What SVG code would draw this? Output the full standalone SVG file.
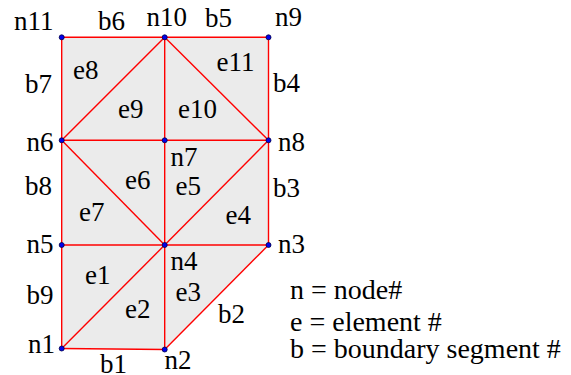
<svg xmlns="http://www.w3.org/2000/svg" width="571" height="375" viewBox="0 0 571 375">
<style>
text{font-size:27px;fill:#000}
.leg{font-size:28px}
.e{stroke:#ff0000;stroke-width:1.4;fill:none}
.d{fill:#0000ee;stroke:#000044;stroke-width:0.8}
</style>
<rect width="571" height="375" fill="#fff"/>
<polygon points="61.7,37.3 268.5,37.3 268.5,245 164.7,349.5 61.7,348.5" fill="#ebebeb"/>
<g id="connectors" class="e">
<line x1="61.7" y1="348.5" x2="164.7" y2="349.5"/>
<line x1="164.7" y1="349.5" x2="268.5" y2="245"/>
<line x1="268.5" y1="245" x2="268.5" y2="140.3"/>
<line x1="268.5" y1="140.3" x2="268.5" y2="37.3"/>
<line x1="268.5" y1="37.3" x2="164.7" y2="37.3"/>
<line x1="164.7" y1="37.3" x2="61.7" y2="37.3"/>
<line x1="61.7" y1="37.3" x2="61.7" y2="140.3"/>
<line x1="61.7" y1="140.3" x2="61.7" y2="245"/>
<line x1="61.7" y1="245" x2="61.7" y2="348.5"/>
<line x1="61.7" y1="245" x2="164.7" y2="245"/>
<line x1="164.7" y1="245" x2="268.5" y2="245"/>
<line x1="61.7" y1="140.3" x2="164.7" y2="140.3"/>
<line x1="164.7" y1="140.3" x2="268.5" y2="140.3"/>
<line x1="164.7" y1="37.3" x2="164.7" y2="140.3"/>
<line x1="164.7" y1="140.3" x2="164.7" y2="245"/>
<line x1="164.7" y1="245" x2="164.7" y2="349.5"/>
<line x1="61.7" y1="348.5" x2="164.7" y2="245"/>
<line x1="164.7" y1="245" x2="268.5" y2="140.3"/>
<line x1="61.7" y1="140.3" x2="164.7" y2="245"/>
<line x1="61.7" y1="140.3" x2="164.7" y2="37.3"/>
<line x1="164.7" y1="37.3" x2="268.5" y2="140.3"/>
</g>
<g font-family="Liberation Serif, Times New Roman, serif">
<g id="n1"><circle class="d" cx="61.7" cy="348.5" r="2.5"/><text x="28" y="353">n1</text></g>
<g id="n2"><circle class="d" cx="164.7" cy="349.5" r="2.5"/><text x="164.5" y="369">n2</text></g>
<g id="n3"><circle class="d" cx="268.5" cy="245" r="2.5"/><text x="278" y="253">n3</text></g>
<g id="n4"><circle class="d" cx="164.7" cy="245" r="2.5"/><text x="170.5" y="270">n4</text></g>
<g id="n5"><circle class="d" cx="61.7" cy="245" r="2.5"/><text x="26.5" y="253">n5</text></g>
<g id="n6"><circle class="d" cx="61.7" cy="140.3" r="2.5"/><text x="26.5" y="150.5">n6</text></g>
<g id="n7"><circle class="d" cx="164.7" cy="140.3" r="2.5"/><text x="170.5" y="166">n7</text></g>
<g id="n8"><circle class="d" cx="268.5" cy="140.3" r="2.5"/><text x="278" y="150.5">n8</text></g>
<g id="n9"><circle class="d" cx="268.5" cy="37.3" r="2.5"/><text x="275" y="26">n9</text></g>
<g id="n10"><circle class="d" cx="164.7" cy="37.3" r="2.5"/><text x="146.5" y="26">n10</text></g>
<g id="n11"><circle class="d" cx="61.7" cy="37.3" r="2.5"/><text x="14" y="30">n11</text></g>
<g id="elements">
<text x="85" y="284">e1</text>
<text x="125" y="318">e2</text>
<text x="175.5" y="301">e3</text>
<text x="225.5" y="224">e4</text>
<text x="175.5" y="195">e5</text>
<text x="125" y="189">e6</text>
<text x="79" y="221">e7</text>
<text x="73" y="79">e8</text>
<text x="118" y="118">e9</text>
<text x="178" y="118">e10</text>
<text x="216.5" y="71">e11</text>
</g>
<g id="boundary">
<text x="100" y="373">b1</text>
<text x="218" y="323">b2</text>
<text x="273" y="197">b3</text>
<text x="273" y="92">b4</text>
<text x="205" y="26.5">b5</text>
<text x="98" y="30">b6</text>
<text x="25" y="93">b7</text>
<text x="25" y="195">b8</text>
<text x="26.5" y="304">b9</text>
</g>
<g id="legend">
<text class="leg" x="290" y="299">n = node#</text>
<text class="leg" x="290" y="331">e = element #</text>
<text class="leg" x="290" y="358">b = boundary segment #</text>
</g>
</g>
</svg>
